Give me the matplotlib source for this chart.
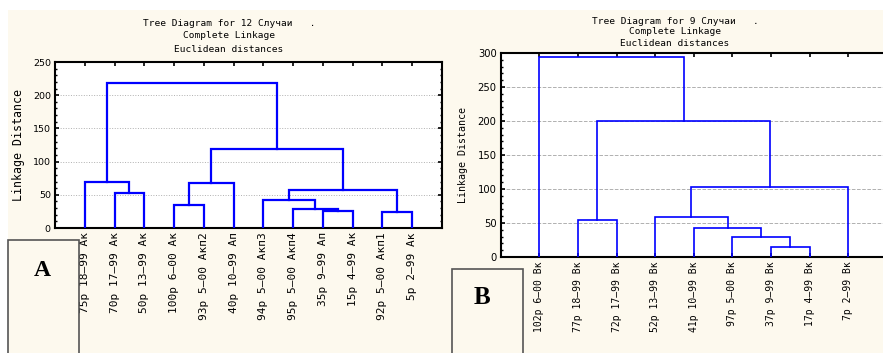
import matplotlib
matplotlib.use("Agg")
import matplotlib.pyplot as plt
import numpy as np
from matplotlib.patches import Rectangle
from matplotlib.ticker import MultipleLocator

W, H = 883, 353
CREAM = '#fdf9ee'
BLUE = '#0000ff'
MONO = ['DejaVu Sans Mono']

# panel A: 12 cases
labels_a = ["75р 18–99 Ак", "70р 17–99 Ак", "50р 13–99 Ак", "100р 6–00 Ак",
            "93р 5–00 Акп2", "40р 10–99 Ап", "94р 5–00 Акп3", "95р 5–00 Акп4",
            "35р 9–99 Ап", "15р 4–99 Ак", "92р 5–00 Акп1", "5р 2–99 Ак"]
# merges (cluster i, cluster j, linkage distance), new clusters numbered from len(labels)
merges_a = [(1, 2, 52.5), (0, 12, 70), (3, 4, 35), (14, 5, 67.5),
            (8, 9, 25), (7, 16, 28.5), (6, 17, 42.5), (10, 11, 23.5),
            (18, 19, 57), (15, 20, 118.5), (13, 21, 219)]

# panel B: 9 cases
labels_b = ["102р 6–00 Вк", "77р 18–99 Вк", "72р 17–99 Вк", "52р 13–99 Вк",
            "41р 10–99 Вк", "97р 5–00 Вк", "37р 9–99 Вк", "17р 4–99 Вк", "7р 2–99 Вк"]
merges_b = [(6, 7, 14.2), (5, 9, 29.4), (4, 10, 43.1), (3, 11, 58.8),
            (12, 8, 103.4), (1, 2, 53.9), (14, 13, 200.5), (0, 15, 293.6)]


def px(x0, y0, w, h):
    # pixel box (top-left origin) -> figure fraction rect
    return [x0 / W, 1 - (y0 + h) / H, w / W, h / H]


def draw_tree(ax, labels, merges, lw):
    n = len(labels)
    xs = list(np.arange(1, n + 1, dtype=float))
    ys = [0.0] * n
    for a, b, h in merges:
        ax.plot([xs[a], xs[a], xs[b], xs[b]], [ys[a], h, h, ys[b]],
                color=BLUE, lw=lw, solid_joinstyle='miter', zorder=3)
        xs.append((xs[a] + xs[b]) / 2)
        ys.append(h)
    ax.set_xlim(0, n + 1)
    ax.set_xticks(np.arange(1, n + 1))


def style_axes(ax, ymax, grid_ls, label_size, tick_size, right=True):
    ax.set_ylim(0, ymax)
    ax.yaxis.set_major_locator(MultipleLocator(50))
    ax.yaxis.set_minor_locator(MultipleLocator(10))
    ax.grid(axis='y', color='#b0b0b0', ls=grid_ls, lw=0.7, zorder=0)
    for s in ax.spines.values():
        s.set_linewidth(1.5)
    ax.spines['right'].set_visible(right)
    ax.tick_params(axis='both', which='major', direction='in', length=3, width=1.2,
                   top=True, right=right, pad=3)
    ax.tick_params(axis='y', which='minor', direction='in', length=1.5, width=1,
                   right=right)
    ax.tick_params(axis='y', labelsize=tick_size)
    ax.tick_params(axis='x', labelsize=label_size, labelrotation=90)
    for t in ax.get_xticklabels():
        t.set_family(MONO)


fig = plt.figure(figsize=(W / 100, H / 100), dpi=100, facecolor='white')
fig.patches.append(Rectangle((8 / W, 0), 1, 1 - 10 / H, transform=fig.transFigure,
                             facecolor=CREAM, edgecolor='none', zorder=-10))

# ---- A ----
ax1 = fig.add_axes(px(55, 62, 387, 166))
draw_tree(ax1, labels_a, merges_a, 1.6)
ax1.set_xticklabels(labels_a)
style_axes(ax1, 250, ':', 8, 6.8)
fig.text(229 / W, 1 - 23 / H, "Tree Diagram for 12 Случаи   .", family=MONO,
         fontsize=6.8, ha='center', va='center')
fig.text(229 / W, 1 - 36 / H, "Complete Linkage", family=MONO,
         fontsize=6.8, ha='center', va='center')
fig.text(229 / W, 1 - 49 / H, "Euclidean distances", family=MONO,
         fontsize=6.8, ha='center', va='center')
fig.text(19 / W, 1 - 145 / H, "Linkage Distance", family=MONO, fontsize=8.4,
         rotation=90, ha='center', va='center')

# ---- B (right edge of the plot runs off the picture) ----
ax2 = fig.add_axes(px(500.7, 53, 390, 204))
draw_tree(ax2, labels_b, merges_b, 1.2)
ax2.set_xlim(0, 10.1)
ax2.set_xticklabels(labels_b)
style_axes(ax2, 300, '--', 7, 7.2, right=False)
fig.text(675 / W, 1 - 21 / H, "Tree Diagram for 9 Случаи   .", family=MONO,
         fontsize=6.8, ha='center', va='center')
fig.text(675 / W, 1 - 32 / H, "Complete Linkage", family=MONO,
         fontsize=6.8, ha='center', va='center')
fig.text(675 / W, 1 - 43 / H, "Euclidean distances", family=MONO,
         fontsize=6.8, ha='center', va='center')
fig.text(463 / W, 1 - 155 / H, "Linkage Distance", family=MONO, fontsize=7.2,
         rotation=90, ha='center', va='center')

# panel letters in boxes
fig.patches.append(Rectangle((8 / W, -0.1), 71 / W, 0.1 + (353 - 240) / H,
                             transform=fig.transFigure, facecolor=CREAM,
                             edgecolor='#555555', lw=1.2, zorder=5))
fig.patches.append(Rectangle((452 / W, -0.1), 71 / W, 0.1 + (353 - 269) / H,
                             transform=fig.transFigure, facecolor=CREAM,
                             edgecolor='#555555', lw=1.2, zorder=5))
fig.text(42 / W, 1 - 270 / H, "A", family=['Liberation Serif', 'DejaVu Serif'],
         weight='bold', fontsize=17, ha='center', va='center', zorder=6)
fig.text(482 / W, 1 - 297 / H, "B", family=['Liberation Serif', 'DejaVu Serif'],
         weight='bold', fontsize=18, ha='center', va='center', zorder=6)

fig.savefig("out.png", dpi=100, facecolor=fig.get_facecolor())
